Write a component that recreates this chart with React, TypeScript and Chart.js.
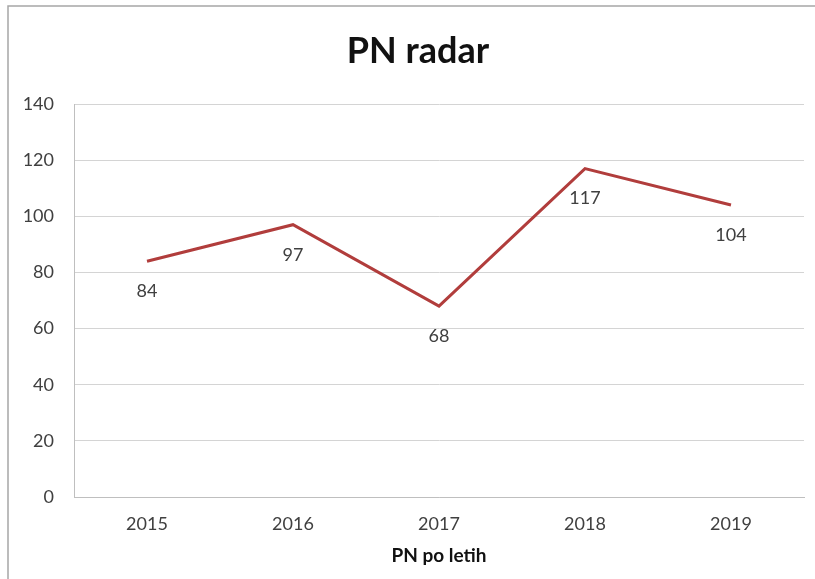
import React, { useEffect, useRef } from "react";
import { Chart, registerables } from "chart.js";

Chart.register(...registerables);

const categories = ["2015", "2016", "2017", "2018", "2019"];
const values = [84, 97, 68, 117, 104];
const yTicks = [0, 20, 40, 60, 80, 100, 120, 140];
const chartTitle = "PN radar";
const xTitle = "PN po letih";

const FONT = "Lato, 'Open Sans', sans-serif";

const framePlugin = {
  id: "frame",
  afterLayout(chart: any) {
    if (chart.titleBlock) {
      chart.titleBlock.left += 24;
    }
  },
  beforeDraw(chart: any) {
    const ctx = chart.ctx;
    ctx.save();
    ctx.fillStyle = "#ffffff";
    ctx.fillRect(0, 0, chart.width, chart.height);
    ctx.strokeStyle = "#a6a6a6";
    ctx.lineWidth = 1.5;
    ctx.beginPath();
    ctx.moveTo(8, chart.height);
    ctx.lineTo(8, 6);
    ctx.lineTo(chart.width, 6);
    ctx.stroke();
    ctx.restore();
  },
};

const labelPlugin = {
  id: "pointLabels",
  afterDatasetsDraw(chart: any) {
    const ctx = chart.ctx;
    const meta = chart.getDatasetMeta(0);
    const data = chart.data.datasets[0].data;
    ctx.save();
    ctx.font = `18px ${FONT}`;
    ctx.fillStyle = "#404040";
    ctx.textAlign = "center";
    ctx.textBaseline = "middle";
    meta.data.forEach((pt: any, i: number) => {
      ctx.fillText(String(data[i]), pt.x, pt.y + 30);
    });
    ctx.restore();
  },
};

export default function App() {
  const ref = useRef<HTMLCanvasElement>(null);
  useEffect(() => {
    document.body.style.margin = "0";
    const chart = new Chart(ref.current!, {
      type: "line",
      data: {
        labels: categories,
        datasets: [
          {
            data: values,
            borderColor: "#b13d3c",
            borderWidth: 3,
            pointRadius: 0,
            tension: 0,
            fill: false,
          },
        ],
      },
      options: {
        responsive: false,
        animation: false,
        layout: { padding: { left: 8, right: 11, top: 0, bottom: 0 } },
        plugins: {
          legend: { display: false },
          tooltip: { enabled: false },
          title: {
            display: true,
            text: chartTitle,
            color: "#111111",
            font: { family: FONT, size: 36, weight: "bold", lineHeight: 1.2 },
            padding: { top: 30, bottom: 30.8 },
          },
        },
        scales: {
          x: {
            offset: true,
            grid: { display: false, drawTicks: false },
            border: { display: true, color: "#bfbfbf", width: 1 },
            ticks: {
              color: "#404040",
              font: { family: FONT, size: 18 },
              padding: 16,
              maxRotation: 0,
            },
            title: {
              display: true,
              text: xTitle,
              color: "#111111",
              font: { family: FONT, size: 19, weight: "bold", lineHeight: 1.2 },
              padding: { top: 0, bottom: 12 },
            },
            afterFit(scale: any) {
              scale.height = 82;
            },
          },
          y: {
            min: 0,
            max: 140,
            afterBuildTicks(scale: any) {
              scale.ticks = yTicks.map((v) => ({ value: v }));
            },
            grid: { color: "#d4d4d4", lineWidth: 1, drawTicks: false },
            border: { display: true, color: "#bfbfbf", width: 1 },
            ticks: {
              color: "#404040",
              font: { family: FONT, size: 18 },
              padding: 20,
            },
            afterFit(scale: any) {
              scale.width = 66;
            },
          },
        },
      },
      plugins: [framePlugin, labelPlugin],
    });
    return () => chart.destroy();
  }, []);
  return <canvas ref={ref} width={815} height={579} />;
}
